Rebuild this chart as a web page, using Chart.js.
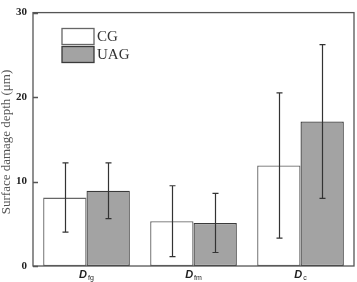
<!DOCTYPE html>
<html>
<head>
<meta charset="utf-8">
<script src="https://cdn.jsdelivr.net/npm/chart.js@4/dist/chart.umd.min.js"></script>
<style>
  html, body { margin: 0; padding: 0; background: #fff; }
  #wrap { width: 357px; height: 282px; }
</style>
</head>
<body>
<div id="wrap"><canvas id="chart" width="357" height="282"></canvas></div>
<script>
// categories are D with a subscript
const subs = ['fg', 'fm', 'c'];
const seriesNames = ['CG', 'UAG'];
const cg = [8.1, 5.3, 11.9];
const uag = [8.9, 5.1, 17.1];
const cgSd = [4.1, 4.2, 8.6];
const uagSd = [3.3, 3.5, 9.1];
const yTicks = [0, 10, 20, 30];
const yTitle = 'Surface damage depth (\u03bcm)';

const errorBars = {
  id: 'errorBars',
  afterDatasetsDraw(chart) {
    const ctx = chart.ctx;
    const y = chart.scales.y;
    const sds = [cgSd, uagSd];
    ctx.save();
    ctx.strokeStyle = '#333';
    ctx.lineWidth = 1.2;
    chart.data.datasets.forEach((ds, di) => {
      const meta = chart.getDatasetMeta(di);
      meta.data.forEach((bar, i) => {
        const v = ds.data[i], s = sds[di][i];
        const top = y.getPixelForValue(v + s), bot = y.getPixelForValue(v - s);
        const x = Math.round(bar.x) + 0.5;
        ctx.beginPath();
        ctx.moveTo(x, top); ctx.lineTo(x, bot);
        ctx.moveTo(x - 3, top); ctx.lineTo(x + 3, top);
        ctx.moveTo(x - 3, bot); ctx.lineTo(x + 3, bot);
        ctx.stroke();
      });
    });
    ctx.restore();
  }
};

const frame = {
  id: 'frame',
  afterDraw(chart) {
    const ctx = chart.ctx;
    const a = chart.chartArea;
    const y = chart.scales.y;
    const x = chart.scales.x;
    ctx.save();
    // box around plot
    ctx.strokeStyle = '#555';
    ctx.lineWidth = 1.3;
    ctx.strokeRect(a.left, a.top, a.right - a.left, a.bottom - a.top);
    // inward tick marks
    ctx.beginPath();
    yTicks.forEach(t => {
      const py = Math.round(y.getPixelForValue(t)) + 0.5;
      ctx.moveTo(a.left, py); ctx.lineTo(a.left + 5, py);
    });
    ctx.stroke();
    // y title
    ctx.fillStyle = '#555';
    ctx.font = '13px "Liberation Serif", "Times New Roman", serif';
    ctx.textAlign = 'center';
    ctx.textBaseline = 'middle';
    ctx.translate(7, 142);
    ctx.rotate(-Math.PI / 2);
    ctx.fillText(yTitle, 0, 0);
    ctx.restore();

    // x labels: D + subscript
    ctx.save();
    ctx.fillStyle = '#222';
    ctx.textBaseline = 'alphabetic';
    subs.forEach((s, i) => {
      const cx = x.getPixelForTick(i);
      ctx.font = 'italic bold 11px "Liberation Sans", Arial, sans-serif';
      const wD = ctx.measureText('D').width;
      ctx.font = '7px "Liberation Sans", Arial, sans-serif';
      const wS = ctx.measureText(s).width;
      const left = cx - (wD + wS + 1) / 2;
      ctx.font = 'italic bold 11px "Liberation Sans", Arial, sans-serif';
      ctx.textAlign = 'left';
      ctx.fillText('D', left, 278);
      ctx.font = '7px "Liberation Sans", Arial, sans-serif';
      ctx.fillText(s, left + wD + 1, 280);
    });
    ctx.restore();

    // legend
    ctx.save();
    const fills = ['#ffffff', '#a3a3a3'];
    const borders = ['#666', '#3a3a3a'];
    ctx.font = '15px "Liberation Serif", "Times New Roman", serif';
    ctx.textBaseline = 'middle';
    ctx.textAlign = 'left';
    seriesNames.forEach((n, i) => {
      const by = 28.5 + i * 18;
      ctx.fillStyle = fills[i];
      ctx.fillRect(62, by, 32, 16);
      ctx.strokeStyle = borders[i];
      ctx.lineWidth = 1.3;
      ctx.strokeRect(62, by, 32, 16);
      ctx.fillStyle = '#333';
      ctx.fillText(n, 97, by + 9);
    });
    ctx.restore();
  }
};

new Chart(document.getElementById('chart'), {
  type: 'bar',
  data: {
    labels: subs.map(s => 'D' + s),
    datasets: [
      { label: seriesNames[0], data: cg, backgroundColor: '#ffffff', borderColor: '#666', borderWidth: 1.3, borderSkipped: false },
      { label: seriesNames[1], data: uag, backgroundColor: '#a3a3a3', borderColor: '#3a3a3a', borderWidth: 1.3, borderSkipped: false }
    ]
  },
  options: {
    responsive: false,
    animation: false,
    layout: { padding: { top: 5, right: 3, left: 0, bottom: 0 } },
    plugins: { legend: { display: false }, tooltip: { enabled: false } },
    datasets: { bar: { categoryPercentage: 0.81, barPercentage: 1.0 } },
    scales: {
      x: {
        grid: { display: false, drawTicks: false },
        border: { display: false },
        ticks: { callback: () => '' },
        afterFit: s => { s.height = 16; }
      },
      y: {
        min: 0, max: 30,
        afterBuildTicks: s => { s.ticks = yTicks.map(v => ({ value: v })); },
        grid: { display: false, drawTicks: false },
        border: { display: false },
        ticks: {
          padding: 6,
          color: '#222',
          font: { family: '"Liberation Serif", "Times New Roman", serif', size: 11, weight: 'bold' }
        },
        afterFit: s => { s.width = 33; }
      }
    }
  },
  plugins: [errorBars, frame]
});
</script>
</body>
</html>
